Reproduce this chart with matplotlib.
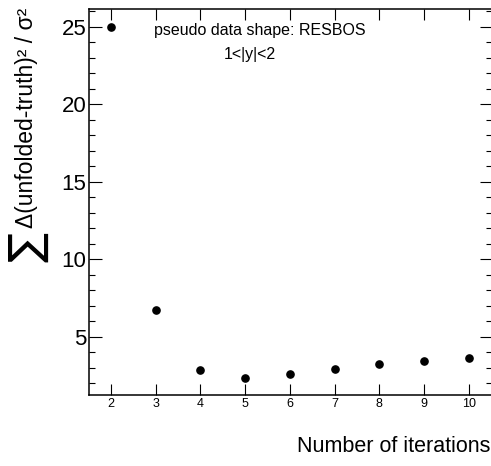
import matplotlib
matplotlib.use("Agg")
import matplotlib.pyplot as plt
from matplotlib.ticker import MultipleLocator

plt.rcParams['font.family'] = ['Liberation Sans', 'DejaVu Sans']

# Sum of squared residuals vs. number of unfolding iterations
iterations = [2, 3, 4, 5, 6, 7, 8, 9, 10]
chi2_sum = [25.0, 6.72, 2.85, 2.35, 2.57, 2.91, 3.21, 3.43, 3.60]

x_tick_labels = ["2", "3", "4", "5", "6", "7", "8", "9", "10"]
y_ticks = [5, 10, 15, 20, 25]

W, H = 491, 466
x_left, x_right = 88.5, 491.6
px_per_unit = 44.75
fig = plt.figure(figsize=(W / 100, H / 100), dpi=100)
ax = fig.add_axes([x_left / W, 1 - 395 / H, (x_right - x_left) / W, (395 - 8.5) / H])

ax.plot(iterations, chi2_sum, linestyle="none", marker="o", color="black",
        markersize=5.2)

ax.set_xlim(1.5, 1.5 + (x_right - x_left) / px_per_unit)
ax.set_ylim(1.23, 26.18)

ax.set_xticks(iterations)
ax.set_xticklabels(x_tick_labels, fontsize=9)
ax.set_yticks(y_ticks)
ax.set_yticklabels([str(v) for v in y_ticks], fontsize=16)
ax.yaxis.set_minor_locator(MultipleLocator(1))

ax.tick_params(axis="x", which="major", direction="in", length=8, width=0.8,
               top=True, bottom=True, pad=2)
ax.tick_params(axis="y", which="major", direction="in", length=9, width=0.8,
               left=True, right=True, pad=1.5)
ax.tick_params(axis="y", which="minor", direction="in", length=4.5, width=0.8,
               left=True, right=True)
for sp in ax.spines.values():
    sp.set_linewidth(1.1)

# Axis titles
fig.text(490 / W, 1 - 447 / H, "Number of iterations", fontsize=15.5,
         ha="right", va="center")
fig.text(33 / W, 1 - 8 / H, "\u0394(unfolded-truth)\u00b2 / \u03c3\u00b2",
         fontsize=16.5, rotation=90, rotation_mode="anchor",
         ha="right", va="baseline")
fig.text(27.5 / W, 1 - 247 / H, "\u2211", fontsize=32, rotation=90,
         ha="center", va="center", family=["DejaVu Sans"])

# Annotations
fig.text(259.5 / W, 1 - 31 / H, "pseudo data shape: RESBOS", fontsize=11.5,
         ha="center", va="center")
fig.text(250 / W, 1 - 55 / H, "1<|y|<2", fontsize=11.5, ha="center", va="center")

fig.savefig("out.png", dpi=100)
